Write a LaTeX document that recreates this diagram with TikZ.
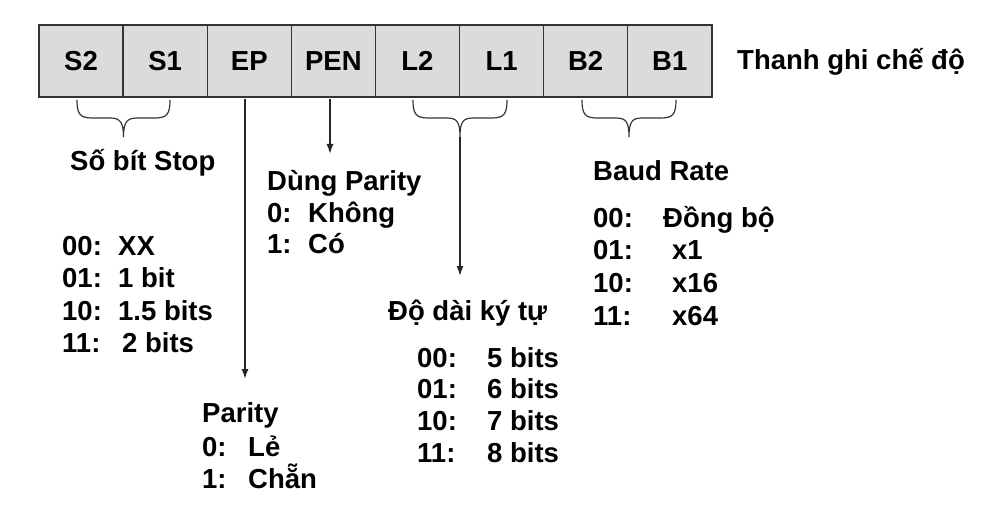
\documentclass[tikz,border=0pt]{standalone}
\usepackage{fontspec}
\setmainfont{Liberation Sans}
\usetikzlibrary{arrows.meta,calc}
\begin{document}
\begin{tikzpicture}[x=1pt,y=-1pt,
  font=\fontsize{27.5}{32}\selectfont\bfseries,
  cell/.style={draw=black!80, fill=black!14, line width=1.4pt, minimum width=84.1pt, minimum height=72pt, inner sep=0pt},
  txt/.style={anchor=base west, inner sep=0pt},
  brace/.style={draw=black!80, line width=1.2pt},
  conn/.style={draw=black!85, line width=1.4pt, -{Latex[length=10pt,width=7pt]}},
  ]
\useasboundingbox (0,0) rectangle (985,516);
% register cells
\foreach \n/\l [count=\i from 0] in {s2/S2,s1/S1,ep/EP,pen/PEN,l2/L2,l1/L1,b2/B2,b1/B1}{
  \node[cell] (\n) at ({39+84.1*(\i+0.5)},61) {\l};
}
\node[txt] (title) at (737,70) {Thanh ghi chế độ};

% braces
\coordinate (sbL) at (77,100);
\coordinate (sbR) at (170,100);
\coordinate (sbT) at (123.5,137);
\draw[brace] (sbL) .. controls (77,114) and (80,118) .. (92,118) -- (110,118)
   .. controls (120,118) and (123.5,122) .. (sbT)
   .. controls (123.5,122) and (127,118) .. (137,118) -- (155,118)
   .. controls (167,118) and (170,114) .. (sbR);

\coordinate (lbL) at (413,100);
\coordinate (lbR) at (507,100);
\coordinate (lbT) at (460,137);
\draw[brace] (lbL) .. controls (413,114) and (416,118) .. (428,118) -- (447,118)
   .. controls (457,118) and (460,122) .. (lbT)
   .. controls (460,122) and (463,118) .. (473,118) -- (492,118)
   .. controls (504,118) and (507,114) .. (lbR);

\coordinate (bbL) at (582,100);
\coordinate (bbR) at (676,100);
\coordinate (bbT) at (629,137);
\draw[brace] (bbL) .. controls (582,114) and (585,118) .. (597,118) -- (616,118)
   .. controls (626,118) and (629,122) .. (bbT)
   .. controls (629,122) and (632,118) .. (642,118) -- (661,118)
   .. controls (673,118) and (676,114) .. (bbR);

% Stop bits
\node[txt] (stoph) at (70,170) {Số bít Stop};
\foreach \k/\v/\vx/\y [count=\i] in {00:/XX/118/255, 01:/1 bit/118/287, 10:/1.5 bits/118/320, 11:/2 bits/122/352}{
  \node[txt] (stopk\i) at (62,\y) {\k};
  \node[txt] (stopv\i) at (\vx,\y) {\v};
}

% Parity (EP)
\coordinate (epS) at (245,99);
\node[txt] (parh) at (202,422) {Parity};
\coordinate (epE) at (245,379);
\draw[conn] (epS) -- (epE);
\foreach \k/\v/\y [count=\i] in {0:/Lẻ/456, 1:/Chẵn/488}{
  \node[txt] (park\i) at (202,\y) {\k};
  \node[txt] (parv\i) at (248,\y) {\v};
}

% PEN
\coordinate (penS) at (330,99);
\coordinate (penE) at (330,154);
\draw[conn] (penS) -- (penE);
\node[txt] (penh) at (267,190) {Dùng Parity};
\foreach \k/\v/\y [count=\i] in {0:/Không/222, 1:/Có/253}{
  \node[txt] (penk\i) at (267,\y) {\k};
  \node[txt] (penv\i) at (308,\y) {\v};
}

% Character length
\coordinate (lenE) at (460,276);
\draw[conn] (lbT) -- (lenE);
\node[txt] (lenh) at (388,320) {Độ dài ký tự};
\foreach \k/\v/\y [count=\i] in {00:/5 bits/367, 01:/6 bits/398, 10:/7 bits/430, 11:/8 bits/462}{
  \node[txt] (lenk\i) at (417,\y) {\k};
  \node[txt] (lenv\i) at (487,\y) {\v};
}

% Baud rate
\node[txt] (baudh) at (593,180) {Baud Rate};
\foreach \k/\v/\vx/\y [count=\i] in {00:/Đồng bộ/663/227, 01:/x1/672/259, 10:/x16/672/292, 11:/x64/672/325}{
  \node[txt] (baudk\i) at (593,\y) {\k};
  \node[txt] (baudv\i) at (\vx,\y) {\v};
}
\end{tikzpicture}
\end{document}
